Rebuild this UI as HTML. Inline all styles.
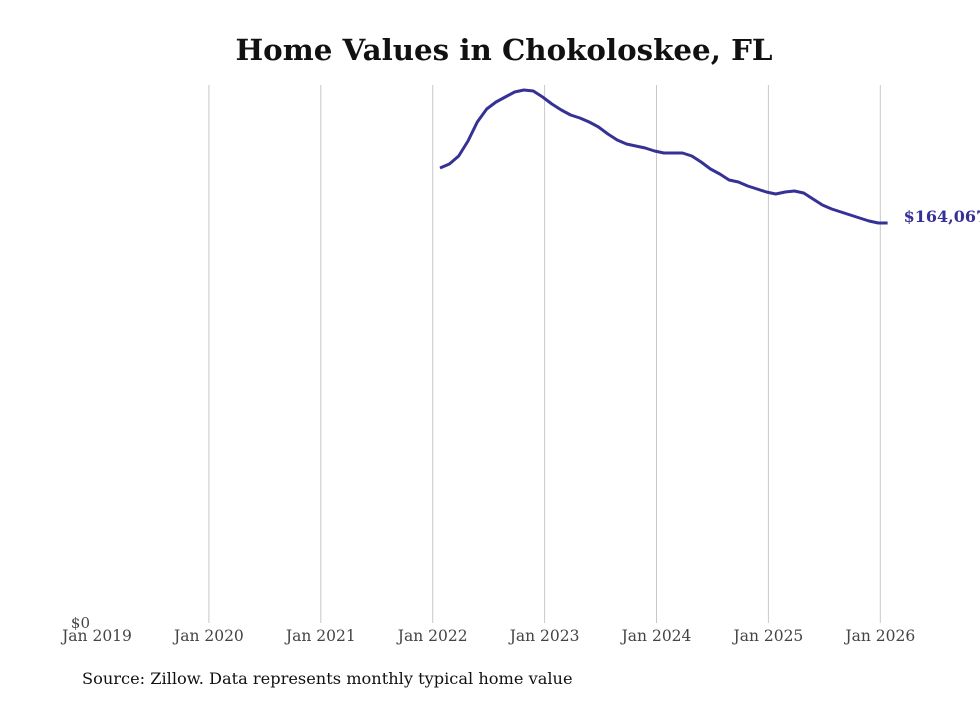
<!DOCTYPE html>
<html><head><meta charset="utf-8"><style>
body{margin:0;background:#fff;}
svg text{font-family:"DejaVu Serif","Liberation Serif",serif;}
</style></head><body>
<svg id="chart" width="980" height="699" xmlns="http://www.w3.org/2000/svg">
<text x="504" y="60" text-anchor="middle" font-size="29.3" font-weight="bold" fill="#111">Home Values in Chokoloskee, FL</text>
<g id="grid"></g><g id="xticks"></g>
<text x="90" y="628" text-anchor="end" font-size="15" fill="#444">$0</text>
<path id="line" fill="none" stroke="#363195" stroke-width="3" stroke-linejoin="round"/>
<text id="endlabel" font-size="16" font-weight="bold" fill="#363195"></text>
<text x="82" y="684" font-size="16.2" fill="#111">Source: Zillow. Data represents monthly typical home value</text>
</svg>
<script>
const tickYears=[2019,2020,2021,2022,2023,2024,2025,2026];
const tickLabels=["Jan 2019","Jan 2020","Jan 2021","Jan 2022","Jan 2023","Jan 2024","Jan 2025","Jan 2026"];
const startYear=2022, startMonth=1; // Feb 2022 (0-based month)
const values=[186627,188268,191549,197702,205495,210827,213699,215749,217800,218621,218210,
215749,212878,210417,208366,207136,205495,203444,200573,198112,196471,195651,194831,
193600,192780,192780,192780,191549,189088,186217,184166,181705,180885,179244,178014,
176783,175963,176783,177193,176373,173912,171451,169810,168580,167349,166119,164888,
164067,164067];
const ns="http://www.w3.org/2000/svg";
const x=t=>97+(t-2019)*111.9;
const y=v=>623-v*400/164067;
const grid=document.getElementById('grid'), xt=document.getElementById('xticks');
tickYears.forEach((yr,i)=>{
  if(i>0){const l=document.createElementNS(ns,'line');
  
  
  l.setAttribute('x1',x(yr));l.setAttribute('x2',x(yr));l.setAttribute('y1',85);l.setAttribute('y2',623);
  l.setAttribute('stroke','#c8c8c8');l.setAttribute('stroke-width','1');grid.appendChild(l);}
  const t=document.createElementNS(ns,'text');
  
  
  t.setAttribute('x',x(yr));t.setAttribute('y',641);t.setAttribute('text-anchor','middle');
  t.setAttribute('font-size','15.5');t.setAttribute('fill','#444');t.textContent=tickLabels[i];xt.appendChild(t);
});
let d='';
values.forEach((v,i)=>{const t=startYear+(startMonth+i)/12;d+=(i?'L':'M')+(x(t)-2).toFixed(1)+','+y(v).toFixed(1);});
document.getElementById('line').setAttribute('d',d);
const last=values[values.length-1], lt=startYear+(startMonth+values.length-1)/12;
const el=document.getElementById('endlabel');
el.setAttribute('x',x(lt)+14);el.setAttribute('y',y(last)-1);
el.textContent='$'+last.toLocaleString('en-US');
</script>
</body></html>
